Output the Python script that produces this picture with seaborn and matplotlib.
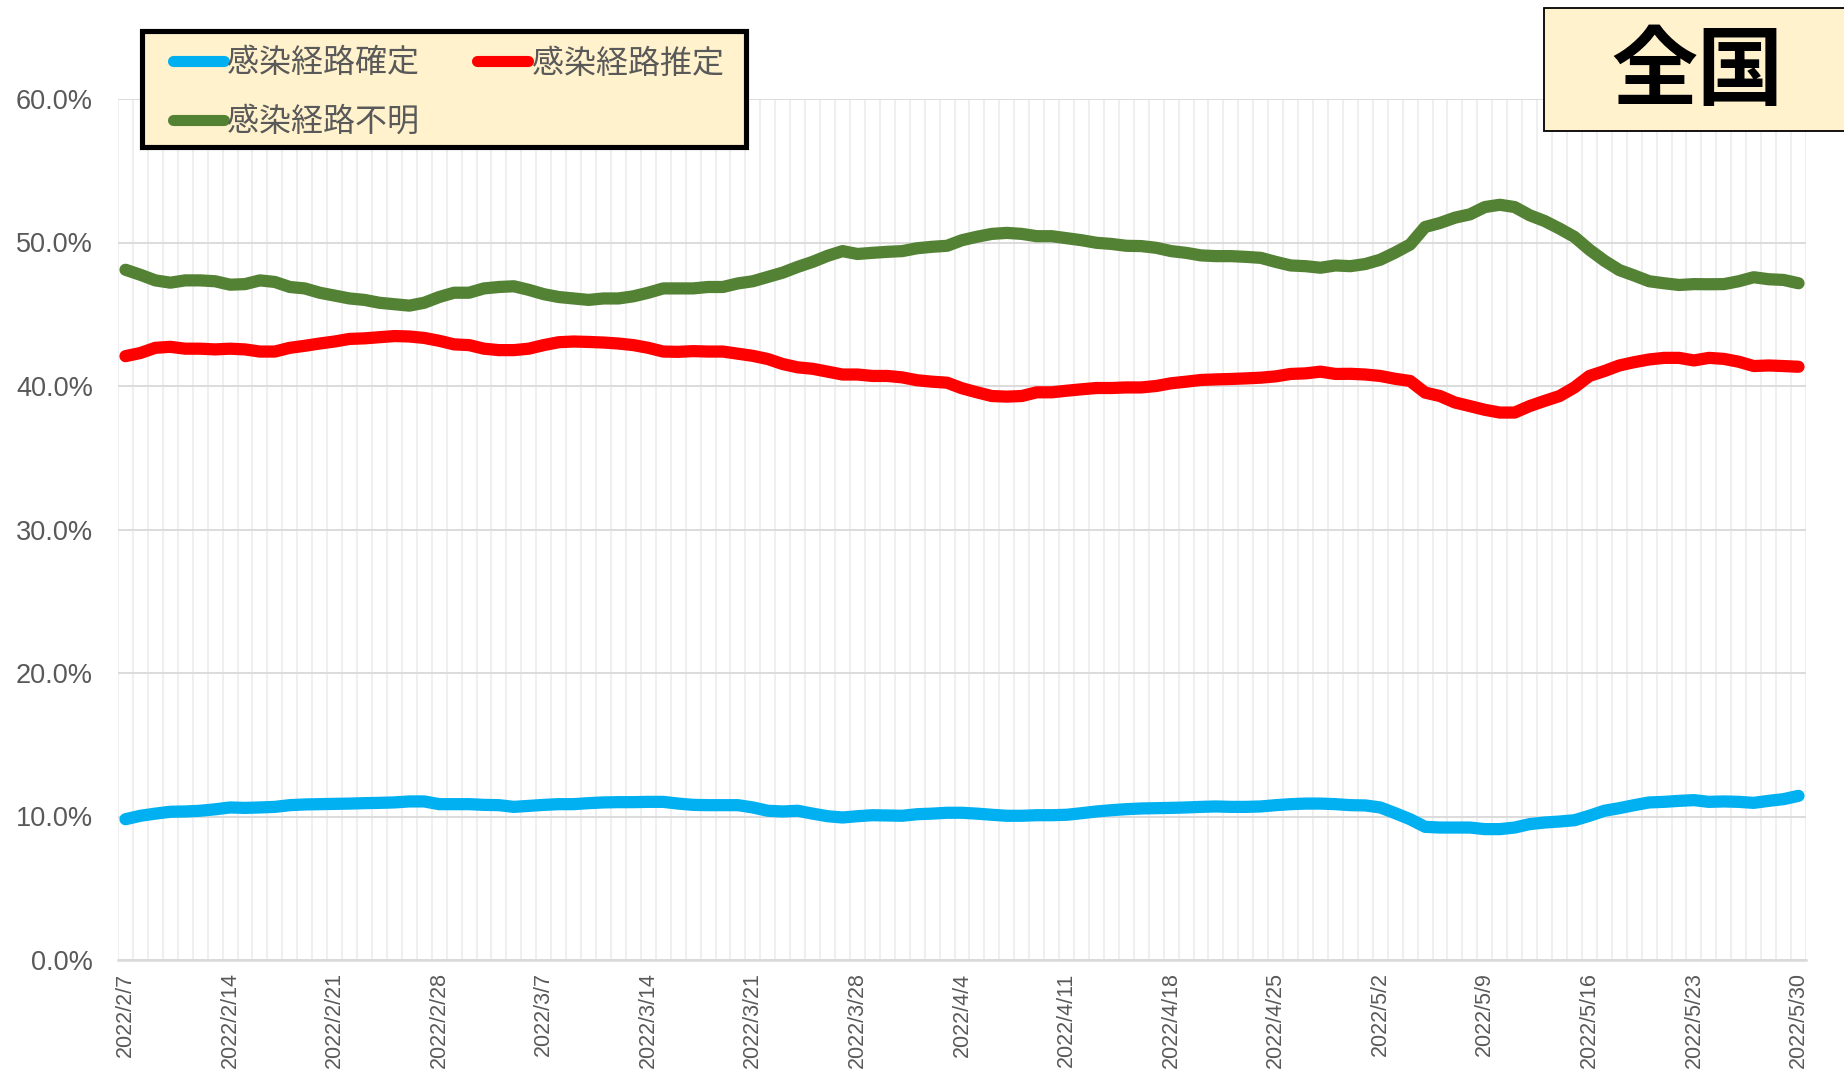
import numpy as np
import pandas as pd
import matplotlib
matplotlib.use("Agg")
import matplotlib.pyplot as plt
from matplotlib.lines import Line2D
from matplotlib.patches import Rectangle
from matplotlib.ticker import FuncFormatter
import seaborn as sns

# ---- data: daily share of new cases by infection route (%), 2022/2/7 - 2022/5/30 ----
start_date = "2022-02-07"
n_days = 113

confirmed = [
    9.81, 10.05, 10.20, 10.33, 10.35, 10.40, 10.50, 10.63, 10.60, 10.63,
    10.67, 10.79, 10.84, 10.86, 10.88, 10.90, 10.93, 10.95, 10.98, 11.05,
    11.05, 10.86, 10.86, 10.86, 10.81, 10.79, 10.67, 10.74, 10.81, 10.86,
    10.86, 10.93, 10.98, 11.00, 11.00, 11.02, 11.02, 10.90, 10.81, 10.79,
    10.79, 10.79, 10.63, 10.40, 10.35, 10.40, 10.20, 10.02, 9.93, 10.02,
    10.09, 10.07, 10.05, 10.16, 10.20, 10.26, 10.26, 10.20, 10.12, 10.05,
    10.05, 10.09, 10.09, 10.12, 10.23, 10.35, 10.44, 10.51, 10.56, 10.58,
    10.60, 10.63, 10.67, 10.70, 10.67, 10.67, 10.70, 10.79, 10.86, 10.90,
    10.90, 10.86, 10.79, 10.77, 10.63, 10.23, 9.81, 9.28, 9.23, 9.23,
    9.23, 9.12, 9.12, 9.23, 9.47, 9.58, 9.65, 9.74, 10.05, 10.40,
    10.58, 10.79, 10.98, 11.02, 11.09, 11.14, 11.02, 11.05, 11.02, 10.95,
    11.09, 11.21, 11.44,
]

estimated = [
    42.08, 42.30, 42.66, 42.73, 42.60, 42.60, 42.55, 42.60, 42.55, 42.40,
    42.40, 42.66, 42.80, 42.96, 43.10, 43.28, 43.32, 43.40, 43.48, 43.45,
    43.35, 43.15, 42.90, 42.85, 42.60, 42.50, 42.50, 42.60, 42.85, 43.05,
    43.10, 43.07, 43.03, 42.96, 42.85, 42.66, 42.40, 42.38, 42.43, 42.40,
    42.40, 42.25, 42.10, 41.88, 41.53, 41.30, 41.20, 41.00, 40.80, 40.80,
    40.70, 40.70, 40.60, 40.40, 40.30, 40.23, 39.84, 39.56, 39.30, 39.26,
    39.30, 39.56, 39.56, 39.67, 39.77, 39.86, 39.86, 39.90, 39.90, 40.00,
    40.19, 40.30, 40.42, 40.46, 40.49, 40.53, 40.58, 40.67, 40.84, 40.88,
    41.00, 40.84, 40.85, 40.80, 40.70, 40.50, 40.35, 39.54, 39.30, 38.85,
    38.60, 38.34, 38.15, 38.15, 38.60, 38.96, 39.30, 39.90, 40.70, 41.04,
    41.43, 41.66, 41.85, 41.96, 41.96, 41.78, 41.96, 41.89, 41.69, 41.39,
    41.43, 41.39, 41.34,
]

unknown = [
    48.10, 47.75, 47.36, 47.20, 47.36, 47.36, 47.30, 47.06, 47.10, 47.36,
    47.25, 46.90, 46.80, 46.50, 46.30, 46.10, 46.00, 45.80, 45.70, 45.60,
    45.80, 46.20, 46.50, 46.50, 46.80, 46.90, 46.95, 46.70, 46.40, 46.20,
    46.10, 46.00, 46.10, 46.10, 46.25, 46.50, 46.80, 46.80, 46.80, 46.90,
    46.90, 47.15, 47.30, 47.60, 47.90, 48.30, 48.65, 49.07, 49.40, 49.20,
    49.28, 49.35, 49.40, 49.60, 49.70, 49.77, 50.16, 50.40, 50.60, 50.67,
    50.60, 50.44, 50.44, 50.30, 50.16, 49.98, 49.90, 49.77, 49.75, 49.63,
    49.40, 49.28, 49.10, 49.05, 49.05, 49.00, 48.93, 48.65, 48.40, 48.35,
    48.24, 48.40, 48.35, 48.50, 48.80, 49.30, 49.86, 51.08, 51.36, 51.73,
    51.96, 52.47, 52.63, 52.47, 51.90, 51.50, 50.97, 50.39, 49.50, 48.73,
    48.08, 47.70, 47.30, 47.16, 47.04, 47.10, 47.09, 47.10, 47.30, 47.58,
    47.44, 47.39, 47.16,
]

series_names = ["感染経路確定", "感染経路推定", "感染経路不明"]
series_colors = ["#00B0F0", "#FF0000", "#548235"]
tick_labels = [
    "2022/2/7", "2022/2/14", "2022/2/21", "2022/2/28", "2022/3/7", "2022/3/14",
    "2022/3/21", "2022/3/28", "2022/4/4", "2022/4/11", "2022/4/18", "2022/4/25",
    "2022/5/2", "2022/5/9", "2022/5/16", "2022/5/23", "2022/5/30",
]
y_ticks = [0, 10, 20, 30, 40, 50, 60]
region_title = "全国"

# ---- long-form table ----
dates = pd.date_range(start_date, periods=n_days)
day = np.arange(n_days)
df = pd.concat(
    [
        pd.DataFrame({"day": day, "date": dates, "value": vals, "series": name})
        for name, vals in zip(series_names, [confirmed, estimated, unknown])
    ],
    ignore_index=True,
)
tick_pos = [(pd.Timestamp(t.replace("/", "-")) - dates[0]).days for t in tick_labels]

# ---- style ----
sns.set_theme(style="white")
plt.rcParams["font.family"] = ["Liberation Sans", "Noto Sans CJK JP", "DejaVu Sans"]
label_gray = "#595959"
cream = "#FFF2CC"

W, H, DPI = 1844, 1069, 100
fig = plt.figure(figsize=(W / DPI, H / DPI), dpi=DPI)
ax_left, ax_bottom_px, ax_w, ax_h = 118, 960, 1688, 861
ax = fig.add_axes([ax_left / W, 1 - ax_bottom_px / H, ax_w / W, ax_h / H])


def px_to_axes(x_px, y_px):
    """Figure pixel position (origin top-left) -> axes fraction."""
    return (x_px - ax_left) / ax_w, (ax_bottom_px - y_px) / ax_h


palette = dict(zip(series_names, series_colors))
sns.lineplot(
    data=df, x="day", y="value", hue="series", palette=palette,
    linewidth=8.8, ax=ax, legend=False, sort=False, zorder=3,
)
for ln in ax.lines:
    ln.set_solid_capstyle("round")
    ln.set_solid_joinstyle("round")

# axes limits & ticks
ax.set_xlim(-0.5, n_days - 0.5)
ax.set_ylim(0, 60)
ax.set_yticks(y_ticks)
ax.yaxis.set_major_formatter(FuncFormatter(lambda v, _: f"{v:.1f}%"))
ax.set_xticks(tick_pos)
ax.set_xticklabels(tick_labels, rotation=90, ha="center", va="top")
ax.set_xticks(np.arange(-0.5, n_days, 1), minor=True)
ax.set_xlabel("")
ax.set_ylabel("")

ax.tick_params(axis="y", labelsize=19.5, colors=label_gray, length=0, pad=18)
ax.tick_params(axis="x", which="major", labelsize=15.5, colors=label_gray, length=0, pad=9)
ax.tick_params(axis="x", which="minor", length=0)

# grid: light vertical day lines, grey horizontal lines
ax.grid(False)
ax.grid(which="minor", axis="x", color="#EFEFEF", linewidth=1.5, zorder=0)
ax.grid(which="major", axis="y", color="#D9D9D9", linewidth=1.3, zorder=0)
ax.set_axisbelow(True)

for side in ["top", "right", "left"]:
    ax.spines[side].set_visible(False)
ax.spines["bottom"].set_color("#D9D9D9")
ax.spines["bottom"].set_linewidth(1.8)

# legend box (drawn separately for exact padding)
bx0, by0 = px_to_axes(141.5, 146.5)
bx1, by1 = px_to_axes(745.5, 31.0)
ax.add_patch(Rectangle((bx0, by0), bx1 - bx0, by1 - by0, transform=ax.transAxes,
                       facecolor=cream, edgecolor="black", linewidth=3.7,
                       clip_on=False, zorder=9))

# legend entries (row 1: 確定, 推定 ; row 2: 不明)
handles = [
    Line2D([0], [0], color=c, lw=8, solid_capstyle="round") for c in series_colors
]
order = [0, 2, 1]
leg = ax.legend(
    [handles[i] for i in order], [series_names[i] for i in order],
    ncol=2, loc="upper left",
    bbox_to_anchor=px_to_axes(172.5, 49.0),
    borderaxespad=0, borderpad=0, frameon=False,
    fontsize=23, handlelength=1.6, handletextpad=0.1,
    columnspacing=1.83, labelspacing=0.86,
)
for t in leg.get_texts():
    t.set_color(label_gray)
leg.set_zorder(10)

# region title box in the top-right corner
fig.patches.append(
    Rectangle((1544 / W, 1 - 131 / H), 320 / W, 123 / H, transform=fig.transFigure,
              facecolor=cream, edgecolor="black", linewidth=1.3, zorder=10)
)
fig.text(1697 / W, 1 - 73 / H, region_title, ha="center", va="center",
         fontsize=62, fontweight="bold", color="black",
         family=["Noto Sans CJK JP"], zorder=11)

fig.savefig("out.png", dpi=DPI)
